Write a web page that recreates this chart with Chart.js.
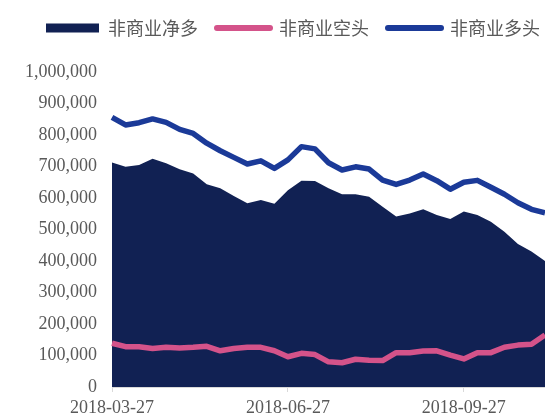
<!DOCTYPE html>
<html>
<head>
<meta charset="utf-8">
<script src="https://cdn.jsdelivr.net/npm/chart.js@4/dist/chart.umd.min.js"></script>
<style>
html,body{margin:0;padding:0;background:#fff;}
#c{display:block;}
</style>
</head>
<body>
<canvas id="c" width="545" height="416"></canvas>
<script>
// weekly categories (Tuesdays)
const categories = [
  '2018-03-27','2018-04-03','2018-04-10','2018-04-17','2018-04-24','2018-05-01','2018-05-08','2018-05-15',
  '2018-05-22','2018-05-29','2018-06-05','2018-06-12','2018-06-19','2018-06-26','2018-07-03','2018-07-10',
  '2018-07-17','2018-07-24','2018-07-31','2018-08-07','2018-08-14','2018-08-21','2018-08-28','2018-09-04',
  '2018-09-11','2018-09-18','2018-09-25','2018-10-02','2018-10-09','2018-10-16','2018-10-23','2018-10-30',
  '2018-11-06'
];
const seriesNames = ['非商业净多', '非商业空头', '非商业多头'];
const netLong = [713000,699000,705000,725000,710000,691000,678000,644000,631000,606000,583000,594000,582000,625000,655000,654000,631000,612000,612000,604000,572000,541000,551000,564000,546000,533000,557000,546000,525000,493000,454000,430000,400000];
const shortPos = [139000,128000,128000,122000,126000,124000,126000,129000,115000,122000,126000,126000,115000,96000,107000,103000,80000,77000,88000,85000,84000,109000,109000,114000,115000,101000,89000,109000,109000,126000,133000,136000,165000];
const longPos = [856000,832000,839000,851000,840000,818000,805000,774000,750000,729000,708000,718000,694000,721000,763000,756000,712000,689000,699000,692000,657000,643000,657000,676000,655000,628000,650000,656000,634000,612000,585000,564000,553000];
const xTickCategory = ['2018-03-27','2018-06-26','2018-09-25'];
const xTickLabels = ['2018-03-27','2018-06-27','2018-09-27'];

const NAVY = '#112153', PINK = '#D4538A', BLUE = '#1B3A98', TXT = '#595959';

const legendSpacer = {
  id: 'legendSpacer',
  beforeInit(chart) {
    const orig = chart.legend.fit;
    chart.legend.fit = function () {
      orig.bind(chart.legend)();
      this.height += 25;
    };
  },
  afterLayout(chart) {
    chart.legend.left += 27;
    chart.legend.right += 40;
  }
};

new Chart(document.getElementById('c'), {
  type: 'line',
  data: {
    labels: categories,
    datasets: [
      { label: seriesNames[0], data: netLong, fill: 'origin', backgroundColor: NAVY, borderColor: NAVY,
        borderWidth: 0, pointRadius: 0, tension: 0, order: 3 },
      { label: seriesNames[1], data: shortPos, fill: false, borderColor: PINK, borderWidth: 5.5,
        pointRadius: 0, tension: 0, order: 1, borderJoinStyle: 'round' },
      { label: seriesNames[2], data: longPos, fill: false, borderColor: BLUE, borderWidth: 5.5,
        pointRadius: 0, tension: 0, order: 2, borderJoinStyle: 'round' }
    ]
  },
  options: {
    responsive: false,
    devicePixelRatio: 1,
    animation: false,
    layout: { padding: 0 },
    plugins: {
      tooltip: { enabled: false },
      legend: {
        position: 'top',
        align: 'start',
        labels: {
          usePointStyle: true,
          pointStyleWidth: 53,
          boxWidth: 53,
          boxHeight: 9,
          padding: 19,
          color: TXT,
          font: { family: '"Noto Sans CJK SC", sans-serif', size: 18 },
          generateLabels() {
            return [
              { text: seriesNames[0], fillStyle: NAVY, strokeStyle: NAVY, lineWidth: 0, pointStyle: 'rect', datasetIndex: 0, fontColor: TXT },
              { text: seriesNames[1], fillStyle: PINK, strokeStyle: PINK, lineWidth: 6, lineCap: 'round', pointStyle: 'line', datasetIndex: 1, fontColor: TXT },
              { text: seriesNames[2], fillStyle: BLUE, strokeStyle: BLUE, lineWidth: 6, lineCap: 'round', pointStyle: 'line', datasetIndex: 2, fontColor: TXT }
            ];
          }
        }
      }
    },
    scales: {
      x: {
        type: 'category',
        offset: false,
        afterBuildTicks(axis) {
          axis.ticks = axis.ticks.filter(t => xTickCategory.includes(categories[t.value]));
        },
        afterFit(scale) { scale.height = 29; },
        grid: { display: true, drawOnChartArea: false, drawTicks: true, tickLength: 5, color: '#D9D9D9' },
        border: { display: true, color: '#D9D9D9', width: 1 },
        ticks: {
          autoSkip: false, maxRotation: 0, minRotation: 0, padding: 5,
          color: TXT,
          font: { family: '"Liberation Serif", serif', size: 18 },
          callback(value) {
            const i = xTickCategory.indexOf(categories[value]);
            return i >= 0 ? xTickLabels[i] : '';
          }
        }
      },
      y: {
        min: 0, max: 1000000,
        afterFit(scale) { scale.width = 112; },
        grid: { display: false, drawTicks: false },
        border: { display: false },
        ticks: {
          stepSize: 100000, padding: 15, color: TXT,
          font: { family: '"Liberation Serif", serif', size: 18 },
          callback(v) { return v.toLocaleString('en-US'); }
        }
      }
    }
  },
  plugins: [legendSpacer]
});
</script>
</body>
</html>
